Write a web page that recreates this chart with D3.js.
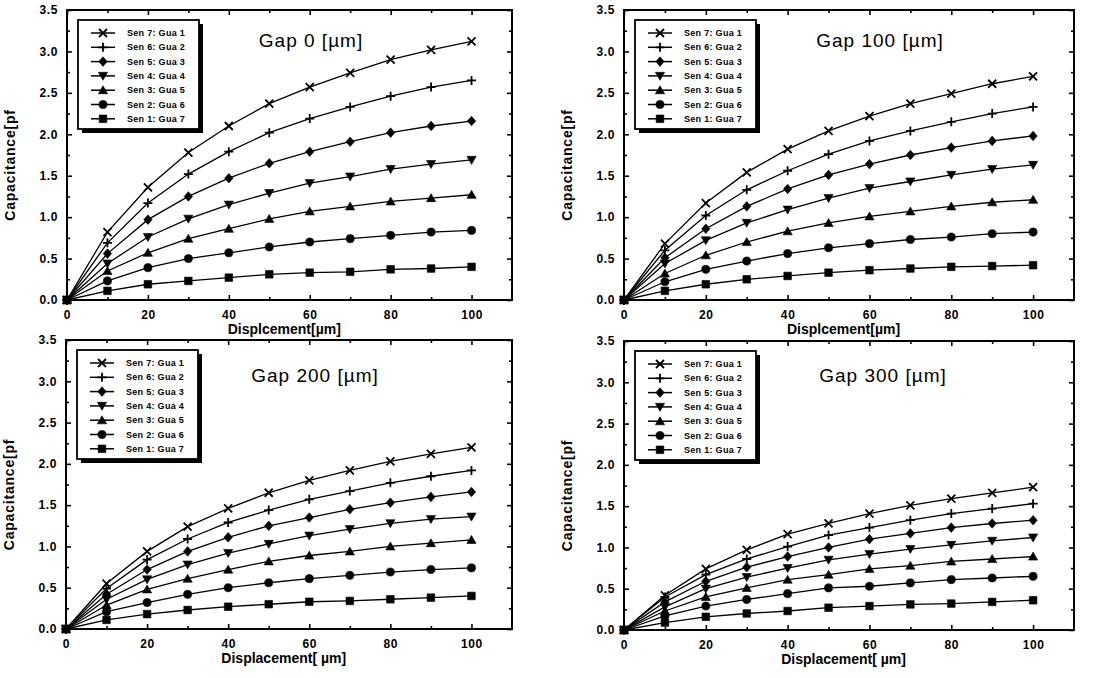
<!DOCTYPE html>
<html>
<head>
<meta charset="utf-8">
<script src="https://cdn.jsdelivr.net/npm/d3@7"></script>
<style>
  html, body { margin: 0; padding: 0; background: #fff; }
  svg { display: block; font-family: "Liberation Sans", Arial, sans-serif; }
  .tick-lbl { font-size: 12px; font-weight: bold; letter-spacing: 0.6px; }
  .ax-title { font-size: 14px; font-weight: bold; }
  .gap-title { font-size: 19px; letter-spacing: 1px; }
  .leg-text { font-size: 9px; font-weight: bold; letter-spacing: 0.3px; }
</style>
</head>
<body>
<svg id="chart" width="1113" height="678"></svg>
<script>
// displacement [um]
const X_VALUES = [0, 10, 20, 30, 40, 50, 60, 70, 80, 90, 100];

const SERIES_LABELS = [
    "Sen 7: Gua 1", "Sen 6: Gua 2", "Sen 5: Gua 3", "Sen 4: Gua 4",
    "Sen 3: Gua 5", "Sen 2: Gua 6", "Sen 1: Gua 7",
];

// capacitance [pF], one row per series (same order as SERIES_LABELS)
const GAP_0 = [
    [0, 0.82, 1.36, 1.78, 2.10, 2.37, 2.57, 2.74, 2.90, 3.02, 3.12],
    [0, 0.69, 1.17, 1.52, 1.79, 2.02, 2.19, 2.33, 2.46, 2.57, 2.65],
    [0, 0.56, 0.97, 1.25, 1.47, 1.65, 1.79, 1.91, 2.02, 2.10, 2.16],
    [0, 0.44, 0.76, 0.98, 1.15, 1.29, 1.41, 1.49, 1.58, 1.64, 1.69],
    [0, 0.35, 0.57, 0.74, 0.86, 0.98, 1.07, 1.13, 1.19, 1.23, 1.27],
    [0, 0.23, 0.39, 0.50, 0.57, 0.64, 0.70, 0.74, 0.78, 0.82, 0.84],
    [0, 0.11, 0.19, 0.23, 0.27, 0.31, 0.33, 0.34, 0.37, 0.38, 0.40],
];
const GAP_100 = [
    [0, 0.68, 1.17, 1.54, 1.82, 2.04, 2.22, 2.37, 2.49, 2.61, 2.70],
    [0, 0.60, 1.02, 1.33, 1.56, 1.76, 1.92, 2.04, 2.15, 2.25, 2.33],
    [0, 0.51, 0.86, 1.13, 1.34, 1.51, 1.64, 1.75, 1.84, 1.92, 1.98],
    [0, 0.44, 0.72, 0.93, 1.09, 1.23, 1.35, 1.43, 1.51, 1.58, 1.63],
    [0, 0.32, 0.54, 0.70, 0.83, 0.93, 1.01, 1.07, 1.13, 1.18, 1.21],
    [0, 0.22, 0.37, 0.47, 0.56, 0.63, 0.68, 0.73, 0.76, 0.80, 0.82],
    [0, 0.11, 0.19, 0.25, 0.29, 0.33, 0.36, 0.38, 0.40, 0.41, 0.42],
];
const GAP_200 = [
    [0, 0.55, 0.94, 1.24, 1.46, 1.65, 1.80, 1.92, 2.03, 2.12, 2.20],
    [0, 0.49, 0.84, 1.09, 1.29, 1.44, 1.57, 1.67, 1.77, 1.85, 1.92],
    [0, 0.42, 0.72, 0.94, 1.11, 1.25, 1.35, 1.45, 1.53, 1.60, 1.66],
    [0, 0.36, 0.60, 0.78, 0.92, 1.03, 1.13, 1.21, 1.28, 1.33, 1.36],
    [0, 0.29, 0.48, 0.61, 0.72, 0.82, 0.89, 0.94, 1.00, 1.04, 1.08],
    [0, 0.21, 0.32, 0.42, 0.50, 0.56, 0.61, 0.65, 0.69, 0.72, 0.74],
    [0, 0.11, 0.18, 0.23, 0.27, 0.30, 0.33, 0.34, 0.36, 0.38, 0.40],
];
const GAP_300 = [
    [0, 0.42, 0.74, 0.97, 1.16, 1.29, 1.41, 1.51, 1.59, 1.66, 1.73],
    [0, 0.40, 0.67, 0.86, 1.01, 1.15, 1.24, 1.33, 1.41, 1.47, 1.53],
    [0, 0.34, 0.59, 0.76, 0.89, 1.00, 1.10, 1.17, 1.24, 1.29, 1.33],
    [0, 0.28, 0.50, 0.64, 0.75, 0.85, 0.92, 0.98, 1.03, 1.08, 1.12],
    [0, 0.23, 0.40, 0.51, 0.61, 0.67, 0.74, 0.78, 0.83, 0.86, 0.89],
    [0, 0.17, 0.29, 0.37, 0.44, 0.51, 0.53, 0.57, 0.61, 0.63, 0.65],
    [0, 0.09, 0.16, 0.20, 0.23, 0.27, 0.29, 0.31, 0.32, 0.34, 0.36],
];

const X_MAJOR = [0, 20, 40, 60, 80, 100];
const X_MINOR = [10, 30, 50, 70, 90];
const Y_MAJOR = [0, 0.5, 1.0, 1.5, 2.0, 2.5, 3.0, 3.5];
const Y_MINOR = [0.25, 0.75, 1.25, 1.75, 2.25, 2.75, 3.25];

const PANELS = [
    { title: "Gap 0 [\u00b5m]",   xLabel: "Displcement[\u00b5m]",   values: GAP_0 },
    { title: "Gap 100 [\u00b5m]", xLabel: "Displcement[\u00b5m]",   values: GAP_100 },
    { title: "Gap 200 [\u00b5m]", xLabel: "Displacement[ \u00b5m]", values: GAP_200 },
    { title: "Gap 300 [\u00b5m]", xLabel: "Displacement[ \u00b5m]", values: GAP_300 },
];
const Y_LABEL = "Capacitance[pf";

// ── Layout ────────────────────────────────────────────────────────────────
const BOXES = [
    { left: 67,  top: 10,  right: 512,  bottom: 300, titleX: 311, titleY: 47 },
    { left: 624, top: 10,  right: 1074, bottom: 300, titleX: 880, titleY: 47 },
    { left: 66,  top: 340, right: 512,  bottom: 629, titleX: 315, titleY: 382 },
    { left: 624, top: 341, right: 1074, bottom: 630, titleX: 883, titleY: 382 },
];
const MARKERS = ["x", "plus", "diamond", "down", "up", "circle", "square"];

const svg = d3.select("#chart");

function markerPath(type) {
    switch (type) {
        case "x":       return "M-4,-4L4,4M-4,4L4,-4";
        case "plus":    return "M-4.5,0L4.5,0M0,-4.5L0,4.5";
        case "diamond": return "M0,-4.8L4.2,0L0,4.8L-4.2,0Z";
        case "down":    return "M-4.6,-3.6L4.6,-3.6L0,4.4Z";
        case "up":      return "M-4.6,3.6L4.6,3.6L0,-4.4Z";
        case "circle":  return d3.symbol(d3.symbolCircle, 52)();
        case "square":  return "M-3.8,-3.8L3.8,-3.8L3.8,3.8L-3.8,3.8Z";
    }
}
function drawMarker(g, type, cx, cy) {
    const stroke = type === "x" || type === "plus";
    g.append("path")
        .attr("d", markerPath(type))
        .attr("transform", `translate(${cx},${cy})`)
        .attr("fill", stroke ? "none" : "#000")
        .attr("stroke", "#000")
        .attr("stroke-width", stroke ? 1.8 : 0.6);
}

PANELS.forEach((p, i) => {
    const b = BOXES[i];
    const x = d3.scaleLinear().domain([0, 110]).range([b.left, b.right]);
    const y = d3.scaleLinear().domain([0, 3.5]).range([b.bottom, b.top]);
    const g = svg.append("g");

    // axes (ticks point inward)
    const bottom = g.append("g").attr("transform", `translate(0,${b.bottom})`)
        .call(d3.axisBottom(x).tickValues(X_MAJOR).tickSizeInner(-5).tickSizeOuter(0)
            .tickPadding(10).tickFormat(d3.format("d")));
    g.append("g").attr("transform", `translate(0,${b.bottom})`)
        .call(d3.axisBottom(x).tickValues(X_MINOR).tickSizeInner(-3).tickSizeOuter(0).tickFormat(""));
    g.append("g").attr("transform", `translate(0,${b.top})`)
        .call(d3.axisTop(x).tickValues(X_MAJOR).tickSizeInner(-5).tickSizeOuter(0).tickFormat(""));
    g.append("g").attr("transform", `translate(0,${b.top})`)
        .call(d3.axisTop(x).tickValues(X_MINOR).tickSizeInner(-3).tickSizeOuter(0).tickFormat(""));
    const left = g.append("g").attr("transform", `translate(${b.left},0)`)
        .call(d3.axisLeft(y).tickValues(Y_MAJOR).tickSizeInner(-5).tickSizeOuter(0)
            .tickPadding(9).tickFormat(d3.format(".1f")));
    g.append("g").attr("transform", `translate(${b.left},0)`)
        .call(d3.axisLeft(y).tickValues(Y_MINOR).tickSizeInner(-3).tickSizeOuter(0).tickFormat(""));
    g.append("g").attr("transform", `translate(${b.right},0)`)
        .call(d3.axisRight(y).tickValues(Y_MAJOR).tickSizeInner(-5).tickSizeOuter(0).tickFormat(""));
    g.append("g").attr("transform", `translate(${b.right},0)`)
        .call(d3.axisRight(y).tickValues(Y_MINOR).tickSizeInner(-3).tickSizeOuter(0).tickFormat(""));

    g.selectAll(".domain").remove();
    g.selectAll(".tick line").attr("stroke", "#000").attr("stroke-width", 1.6);
    [bottom, left].forEach(a => a.selectAll("text")
        .attr("class", "tick-lbl").attr("fill", "#000").attr("font-family", null).attr("font-size", null));

    // frame
    g.append("rect")
        .attr("x", b.left).attr("y", b.top)
        .attr("width", b.right - b.left).attr("height", b.bottom - b.top)
        .attr("fill", "none").attr("stroke", "#000").attr("stroke-width", 2);

    // series
    const line = d3.line().x((d, k) => x(X_VALUES[k])).y(d => y(d));
    p.values.forEach((vals, s) => {
        g.append("path").datum(vals)
            .attr("d", line).attr("fill", "none")
            .attr("stroke", "#000").attr("stroke-width", 1.3);
        vals.forEach((v, k) => drawMarker(g, MARKERS[s], x(X_VALUES[k]), y(v)));
    });

    // titles
    g.append("text").attr("class", "gap-title")
        .attr("x", b.titleX).attr("y", b.titleY).attr("text-anchor", "middle")
        .text(p.title);
    g.append("text").attr("class", "ax-title")
        .attr("x", (b.left + x(100)) / 2 + 15).attr("y", b.bottom + 34).attr("text-anchor", "middle")
        .text(p.xLabel);
    g.append("text").attr("class", "ax-title")
        .attr("transform", `translate(${b.left - 52},${(b.top + b.bottom) / 2 + 10}) rotate(-90)`)
        .attr("text-anchor", "middle").attr("letter-spacing", 0.8)
        .text(Y_LABEL);

    // legend
    const lx = b.left + 11, ly = b.top + 10, lw = 121, lh = 109;
    const leg = g.append("g");
    leg.append("rect").attr("x", lx + 4).attr("y", ly + 4).attr("width", lw).attr("height", lh)
        .attr("fill", "#000");
    leg.append("rect").attr("x", lx).attr("y", ly).attr("width", lw).attr("height", lh)
        .attr("fill", "#fff").attr("stroke", "#000").attr("stroke-width", 1.8);
    SERIES_LABELS.forEach((lbl, s) => {
        const ry = ly + 13 + s * 14.3;
        leg.append("line").attr("x1", lx + 13).attr("x2", lx + 37)
            .attr("y1", ry).attr("y2", ry).attr("stroke", "#000").attr("stroke-width", 1.5);
        drawMarker(leg, MARKERS[s], lx + 25, ry);
        leg.append("text").attr("class", "leg-text")
            .attr("x", lx + 49).attr("y", ry + 3).text(lbl);
    });
});
</script>
</body>
</html>
